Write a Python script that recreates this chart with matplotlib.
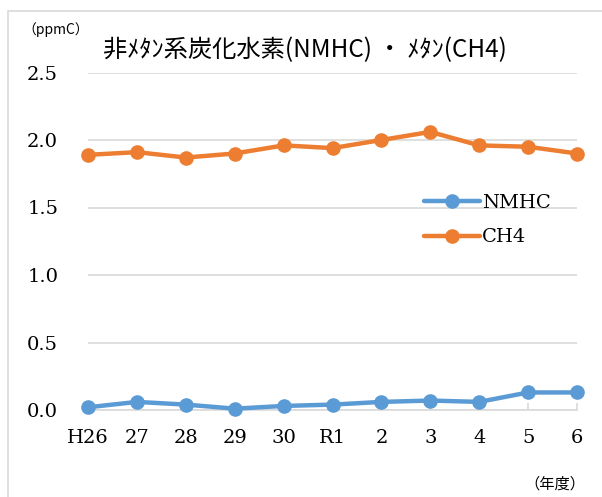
import matplotlib
matplotlib.use("Agg")
import matplotlib.pyplot as plt
from matplotlib.patches import Rectangle

categories = ["H26", "27", "28", "29", "30", "R1", "2", "3", "4", "5", "6"]
nmhc = [0.02, 0.06, 0.04, 0.01, 0.03, 0.04, 0.06, 0.07, 0.06, 0.13, 0.13]
ch4 = [1.89, 1.91, 1.87, 1.90, 1.96, 1.94, 2.00, 2.06, 1.96, 1.95, 1.90]
yticks = [0.0, 0.5, 1.0, 1.5, 2.0, 2.5]

W, H = 602, 497
fig = plt.figure(figsize=(W / 100, H / 100), dpi=100)
fig.patch.set_facecolor("white")

# outer chart border
fig.patches.append(Rectangle((8 / W, -0.01), 1.0, 1 - 11 / H + 0.01,
                             transform=fig.transFigure, fill=False,
                             edgecolor="#d9d9d9", linewidth=1.2))

ax = fig.add_axes([88 / W, 1 - 410 / H, (577 - 88) / W, (410 - 72.5) / H])
x = list(range(len(categories)))
blue = "#5B9BD5"
orange = "#ED7D31"
ax.plot(x, nmhc, color=blue, linewidth=3.2, marker="o", markersize=9.5,
        label="NMHC", solid_capstyle="round", zorder=3, clip_on=False)
ax.plot(x, ch4, color=orange, linewidth=3.2, marker="o", markersize=9.5,
        label="CH4", solid_capstyle="round", zorder=3, clip_on=False)

ax.set_xlim(0, len(categories) - 1)
ax.set_ylim(0, 2.5)
ax.set_yticks(yticks)
ax.set_yticklabels([f"{v:.1f}" for v in yticks])
ax.set_xticks(x)
ax.set_xticklabels(categories)

for s in ["top", "right", "left"]:
    ax.spines[s].set_visible(False)
ax.spines["bottom"].set_color("#d9d9d9")
ax.spines["bottom"].set_linewidth(1.2)
ax.grid(axis="y", color="#d9d9d9", linewidth=1.2)
ax.set_axisbelow(True)

serif = ["DejaVu Serif"]
ax.tick_params(axis="y", length=0, pad=21.5, labelsize=14)
ax.tick_params(axis="x", direction="in", length=5, color="#d9d9d9",
               width=1.2, pad=14, labelsize=14)
for lab in ax.get_xticklabels() + ax.get_yticklabels():
    lab.set_fontfamily(serif)

leg = ax.legend(loc="upper left",
                bbox_to_anchor=((416 - 88) / (577 - 88), (410 - 186) / (410 - 72.5)),
                frameon=False, prop={"family": serif, "size": 14},
                handlelength=2.9, handletextpad=0.1, labelspacing=0.85,
                borderaxespad=0)

jp = ["Noto Sans CJK JP", "DejaVu Sans"]
fig.text(103 / W, 1 - 50 / H, "非ﾒﾀﾝ系炭化水素(NMHC) ・ ﾒﾀﾝ(CH4)",
         family=jp, fontsize=17.5, va="center", ha="left")
fig.text(22 / W, 1 - 30 / H, "（ppmC）", family=jp, fontsize=10,
         va="center", ha="left")
fig.text(585 / W, 1 - 484 / H, "（年度）", family=jp, fontsize=11,
         va="center", ha="right")

fig.savefig("out.png", dpi=100, facecolor="white")
